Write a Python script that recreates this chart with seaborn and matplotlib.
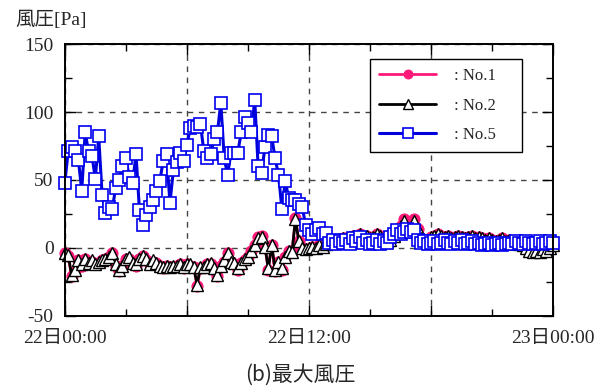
import numpy as np
import pandas as pd
import matplotlib
matplotlib.use('Agg')
import matplotlib.pyplot as plt
import seaborn as sns
from matplotlib.ticker import MultipleLocator

# 10-minute samples, 22日00:00 .. 23日00:00 (hours)
hours = np.arange(145) / 6

# 最大風圧 [Pa]
no5 = [48, 71, 74, 71, 65, 42, 85, 71, 68, 51,
       82, 39, 26, 30, 29, 44, 50, 60, 66, 52,
       48, 69, 28, 17, 24, 30, 35, 42, 49, 64,
       69, 33, 57, 63, 70, 64, 76, 88, 90, 89,
       91, 71, 66, 69, 80, 85, 107, 66, 54, 70,
       70, 70, 85, 96, 92, 85, 109, 60, 55, 74,
       83, 82, 66, 54, 29, 49, 37, 35, 35, 32,
       30, 17, 13, 10, 13, 15, 10, 11, 4, 6,
       3, 5, 4, 6, 3, 7, 5, 8, 4, 6,
       3, 4, 6, 3, 5, 4, 8, 10, 13, 10,
       12, 14, 12, 13, 6, 4, 5, 3, 4, 5,
       3, 4, 6, 4, 3, 5, 4, 6, 3, 4,
       5, 3, 4, 2, 3, 4, 2, 3, 4, 2,
       3, 4, 3, 5, 4, 3, 5, 4, 3, 4,
       5, 3, 4, 5, 4]

no2 = [-4, -5, -20, -16, -9, -12, -8, -11, -9, -12,
       -10, -9, -8, -7, -4, -12, -16, -13, -8, -7,
       -11, -12, -8, -6, -8, -12, -9, -11, -13, -14,
       -13, -14, -13, -13, -12, -14, -12, -12, -14, -27,
       -14, -14, -12, -11, -15, -20, -13, -9, -4, -10,
       -11, -15, -11, -8, -7, -2, 2, 7, 8, 1,
       -15, 2, -16, -10, -15, -7, -2, -3, 21, 5,
       0, -1, 0, 1, 0, 2, 1, 3, 5, 4,
       6, 5, 7, 6, 8, 9, 7, 10, 8, 9,
       7, 8, 10, 9, 6, 5, 6, 9, 12, 16,
       20, 14, 13, 20, 14, 7, 6, 5, 8, 9,
       10, 9, 8, 9, 7, 8, 9, 8, 7, 8,
       9, 7, 8, 7, 6, 7, 6, 5, 6, 7,
       5, 6, 5, 4, 3, 2, 0, -2, -3, -2,
       -3, -1, -2, 0, 2]

no1 = [-4, -6, -21, -17, -9, -13, -8, -11, -10, -12,
       -11, -9, -8, -7, -4, -13, -17, -13, -8, -8,
       -11, -13, -8, -6, -9, -12, -10, -11, -13, -15,
       -13, -14, -14, -13, -12, -15, -12, -13, -14, -28,
       -15, -14, -12, -12, -16, -21, -13, -10, -4, -10,
       -12, -16, -11, -9, -7, -2, 2, 8, 9, 1,
       -16, 2, -17, -10, -16, -7, -2, -3, 22, 5,
       0, -1, -1, 1, 0, 2, 1, 3, 5, 4,
       6, 5, 7, 7, 8, 9, 7, 10, 8, 9,
       7, 8, 10, 9, 6, 5, 6, 10, 12, 16,
       21, 14, 13, 21, 14, 7, 6, 5, 8, 9,
       10, 9, 8, 9, 7, 8, 9, 8, 7, 8,
       9, 7, 8, 7, 6, 7, 6, 5, 6, 7,
       5, 6, 5, 4, 3, 2, 0, -2, -3, -2,
       -3, -1, -2, 0, 2]

x_ticks = [0, 6, 12, 18, 24]
x_labels = ['22日00:00', '', '22日12:00', '', '23日00:00']
y_ticks = [-50, 0, 50, 100, 150]
y_labels = ['-50', '0', '50', '100', '150']

df = pd.DataFrame({'hour': hours, 'No.1': no1, 'No.2': no2, 'No.5': no5})

sns.set_style('ticks')
serif = ['Liberation Serif', 'Noto Sans CJK JP']
plt.rcParams['font.family'] = serif
plt.rcParams['axes.unicode_minus'] = False

fig = plt.figure(figsize=(6, 3.9), dpi=100)
ax = fig.add_axes([0.108, 0.19, 0.814, 0.697])

sns.lineplot(data=df, x='hour', y='No.1', ax=ax, color='#ff1a7a', lw=2,
             marker='o', ms=8, mfc='#ff1a7a', mec='#ff1a7a',
             label=': No.1    ', clip_on=False)
sns.lineplot(data=df, x='hour', y='No.2', ax=ax, color='black', lw=2,
             marker='^', ms=9, mfc='white', mec='black', mew=1,
             label=': No.2    ', clip_on=False)
sns.lineplot(data=df, x='hour', y='No.5', ax=ax, color='#0000dd', lw=2.2,
             marker='s', ms=9, mfc='white', mec='#0000ee', mew=1.2,
             label=': No.5    ', clip_on=False)

ax.set_xlim(0, 24)
ax.set_ylim(-50, 150)
ax.set_xticks(x_ticks, x_labels)
ax.set_yticks(y_ticks, y_labels)
ax.xaxis.set_minor_locator(MultipleLocator(3))
ax.yaxis.set_minor_locator(MultipleLocator(25))
ax.tick_params(which='both', direction='in', top=True, right=True,
               labelsize=14, color='black')
ax.tick_params(which='major', length=8, width=1)
ax.tick_params(which='minor', length=5, width=1)
ax.tick_params(axis='x', pad=10)
ax.tick_params(axis='y', pad=8)
for lab in ax.get_xticklabels() + ax.get_yticklabels():
    lab.set_fontfamily(serif)
ax.set_xlabel('')
ax.set_ylabel('')
ax.set_axisbelow(True)
ax.grid(which='major', ls=(0, (4, 4)), color='#444444', lw=1)
for s in ax.spines.values():
    s.set_linewidth(1.4)
    s.set_color('black')

leg = ax.legend(loc='upper right', bbox_to_anchor=(0.936, 0.945),
                borderaxespad=0, frameon=True, fancybox=False,
                edgecolor='black', handlelength=3.4, labelspacing=0.8,
                borderpad=0.55, handletextpad=1.1, markerscale=0.8,
                prop={'family': 'Liberation Serif', 'size': 12})
leg.get_frame().set_linewidth(1)
leg.get_frame().set_alpha(1)
leg.set_zorder(5)

fig.text(0.025, 0.948, '風圧[Pa]', fontsize=14, va='center', ha='left',
         family=serif)
fig.text(0.5, 0.038, '(b)最大風圧', fontsize=15, va='center', ha='center',
         family=['Noto Sans CJK JP', 'DejaVu Sans'])

fig.savefig('out.png', dpi=100)
